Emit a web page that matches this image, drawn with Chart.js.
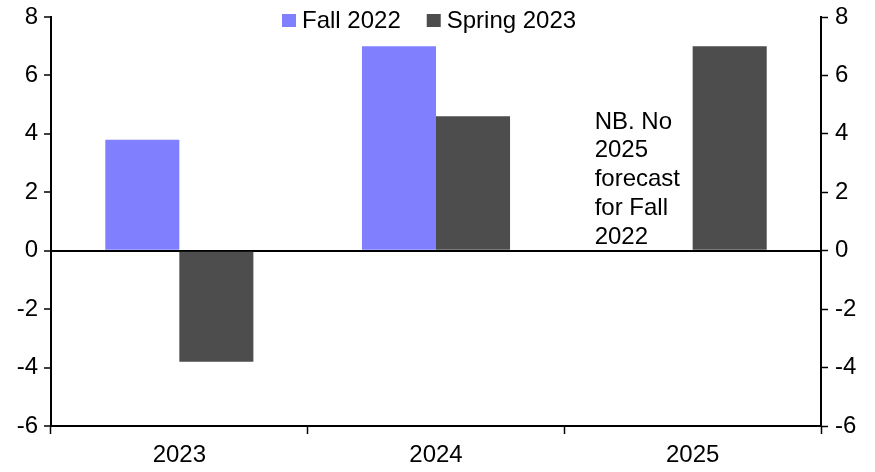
<!DOCTYPE html>
<html>
<head>
<meta charset="utf-8">
<script src="https://cdn.jsdelivr.net/npm/chart.js@4"></script>
<style>
  html, body { margin: 0; padding: 0; background: #fff; }
  #wrap { width: 875px; height: 472px; }
</style>
</head>
<body>
<div id="wrap"><canvas id="chart" width="875" height="472"></canvas></div>
<script>
// Data
const years = ['2023', '2024', '2025'];
const fall2022 = [3.8, 7.0, null];
const spring2023 = [-3.8, 4.6, 7.0];
const yTicks = [8, 6, 4, 2, 0, -2, -4, -6];
const note = ['NB. No', '2025', 'forecast', 'for Fall', '2022'];

const FONT = 'Arial, "Liberation Sans", sans-serif';
const FS = 24;

// legend drawn by hand so it can sit inside the top of the plot
const topLegend = {
    id: 'topLegend',
    afterDraw(chart) {
        const ctx = chart.ctx;
        ctx.save();
        ctx.font = FS + 'px ' + FONT;
        ctx.textBaseline = 'middle';
        ctx.textAlign = 'left';
        let x = 282;
        const y = 20;
        chart.data.datasets.forEach(ds => {
            ctx.fillStyle = ds.backgroundColor;
            ctx.fillRect(x, y - 6, 14, 13);
            ctx.fillStyle = '#000';
            ctx.fillText(ds.label, x + 20, y + 1);
            x += 20 + ctx.measureText(ds.label).width + 26;
        });
        ctx.restore();
    }
};

const noteText = {
    id: 'noteText',
    afterDraw(chart) {
        const ctx = chart.ctx;
        const xs = chart.scales.x;
        const ys = chart.scales.y;
        ctx.save();
        ctx.font = FS + 'px ' + FONT;
        ctx.fillStyle = '#000';
        ctx.textAlign = 'left';
        ctx.textBaseline = 'middle';
        const x0 = xs.getPixelForValue(2) - 98;
        const y0 = ys.getPixelForValue(4.4);
        note.forEach((t, i) => ctx.fillText(t, x0, y0 + i * 28.7));
        ctx.restore();
    }
};

// keep the plot box fixed: no extra room for half tick labels
function noPad(s) {
    s.paddingTop = 0;
    s.paddingBottom = 0;
    s.paddingLeft = 0;
    s.paddingRight = 0;
}

new Chart(document.getElementById('chart').getContext('2d'), {
    type: 'bar',
    data: {
        labels: years,
        datasets: [{
            label: 'Fall 2022',
            data: fall2022,
            backgroundColor: '#8080FF'
        }, {
            label: 'Spring 2023',
            data: spring2023,
            backgroundColor: '#4D4D4D'
        }]
    },
    options: {
        responsive: false,
        animation: false,
        devicePixelRatio: 1,
        layout: { padding: { top: 17, left: 0, right: 0, bottom: 0 } },
        datasets: {
            bar: { categoryPercentage: 0.577, barPercentage: 1.0 }
        },
        plugins: {
            legend: { display: false },
            tooltip: { enabled: false }
        },
        scales: {
            x: {
                offset: true,
                grid: {
                    offset: true,
                    drawOnChartArea: false,
                    tickLength: 8,
                    tickColor: '#000',
                    tickWidth: 1.5
                },
                border: { color: '#000', width: 2 },
                ticks: { color: '#000', font: { size: FS, family: FONT }, padding: 7 },
                afterFit(s) { noPad(s); s.height = 46; }
            },
            y: {
                position: 'left',
                min: -6, max: 8,
                afterBuildTicks(s) { s.ticks = yTicks.map(v => ({ value: v })); },
                grid: {
                    color: c => (c.tick && c.tick.value === 0 ? '#000' : 'rgba(0,0,0,0)'),
                    lineWidth: c => (c.tick && c.tick.value === 0 ? 2 : 0),
                    tickColor: '#000',
                    tickLength: 7,
                    tickWidth: 1.5
                },
                border: { color: '#000', width: 2 },
                ticks: { color: '#000', font: { size: FS, family: FONT }, padding: 6 },
                afterFit(s) { noPad(s); s.width = 51; }
            },
            y2: {
                position: 'right',
                min: -6, max: 8,
                afterBuildTicks(s) { s.ticks = yTicks.map(v => ({ value: v })); },
                grid: {
                    drawOnChartArea: false,
                    tickColor: '#000',
                    tickLength: 7,
                    tickWidth: 1.5
                },
                border: { color: '#000', width: 2 },
                ticks: { color: '#000', font: { size: FS, family: FONT }, padding: 7 },
                afterFit(s) { noPad(s); s.width = 54; }
            }
        }
    },
    plugins: [topLegend, noteText]
});
</script>
</body>
</html>
